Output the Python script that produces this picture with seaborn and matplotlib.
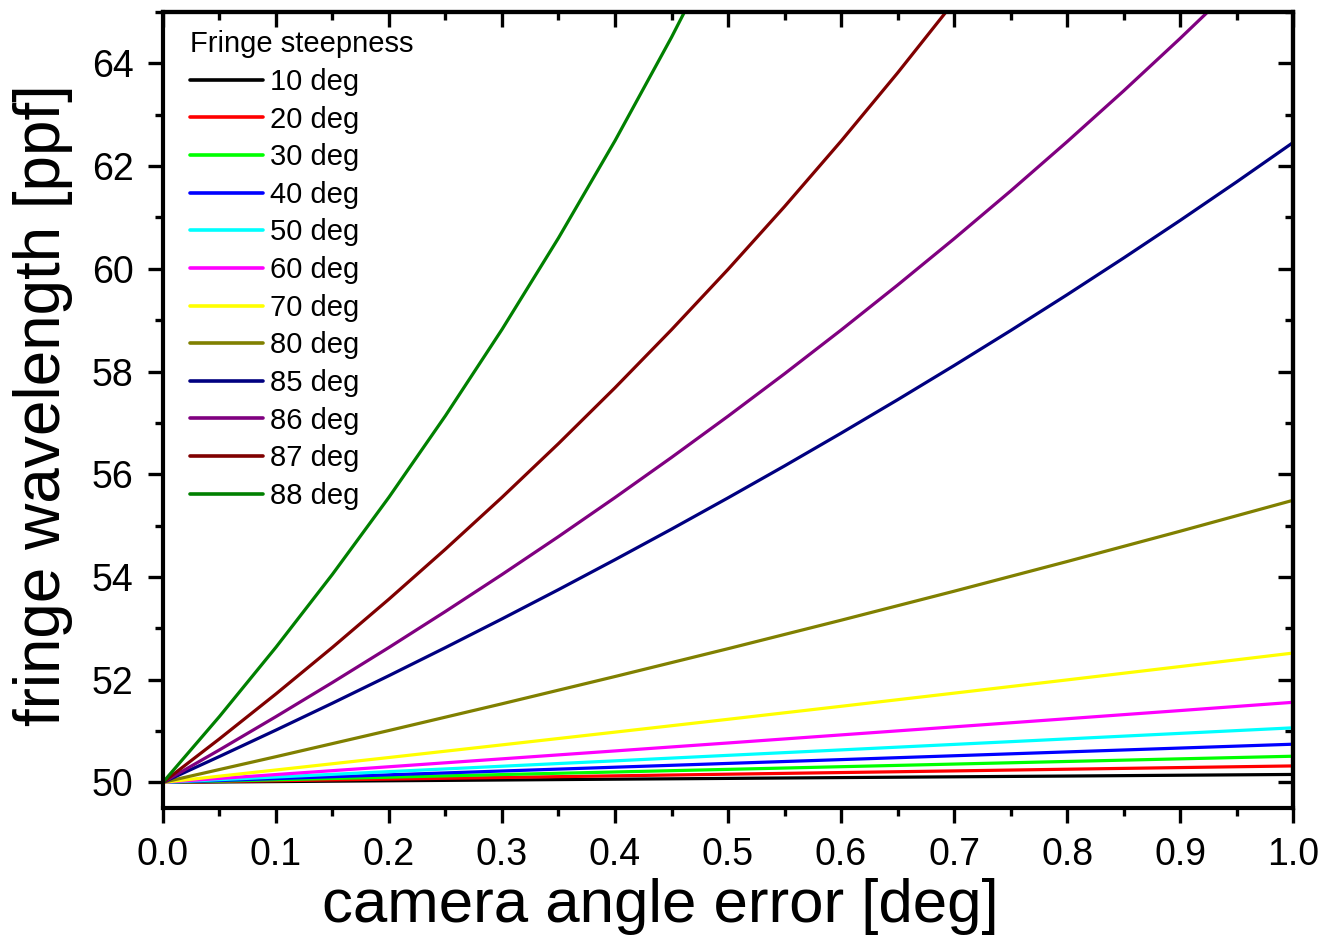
import numpy as np
import pandas as pd
import matplotlib
matplotlib.use("Agg")
import matplotlib.pyplot as plt
from matplotlib.ticker import MultipleLocator
import seaborn as sns

# ---- data ----
labels = ["10 deg", "20 deg", "30 deg", "40 deg", "50 deg", "60 deg",
          "70 deg", "80 deg", "85 deg", "86 deg", "87 deg", "88 deg"]
colors = ["#000000", "#FF0000", "#00FF00", "#0000FF", "#00FFFF", "#FF00FF",
          "#FFFF00", "#808000", "#000080", "#800080", "#800000", "#008000"]

x_coarse = [0.0, 0.1, 0.2, 0.3, 0.4, 0.5, 0.6, 0.7, 0.8, 0.9, 1.0]
x_fine = [0.0, 0.05, 0.1, 0.15, 0.2, 0.25, 0.3, 0.35, 0.4, 0.45, 0.5,
          0.55, 0.6, 0.65, 0.7, 0.75, 0.8, 0.85, 0.9, 0.95, 1.0]

w10 = [50.0, 50.015, 50.031, 50.046, 50.062, 50.077, 50.093, 50.108, 50.123, 50.139, 50.154]
w20 = [50.0, 50.032, 50.064, 50.095, 50.127, 50.159, 50.191, 50.223, 50.256, 50.288, 50.320]
w30 = [50.0, 50.050, 50.101, 50.152, 50.202, 50.253, 50.305, 50.356, 50.407, 50.458, 50.509]
w40 = [50.0, 50.073, 50.147, 50.221, 50.295, 50.369, 50.443, 50.518, 50.593, 50.668, 50.743]
w50 = [50.0, 50.104, 50.209, 50.314, 50.419, 50.526, 50.632, 50.739, 50.846, 50.954, 51.062]
w60 = [50.0, 50.152, 50.304, 50.458, 50.612, 50.767, 50.924, 51.081, 51.239, 51.398, 51.559]
w70 = [50.0, 50.241, 50.484, 50.730, 50.978, 51.228, 51.481, 51.737, 51.995, 52.255, 52.518]
w80 = [50.0, 50.500, 51.010, 51.530, 52.061, 52.603, 53.157, 53.722, 54.300, 54.890, 55.493]
w85 = [50.0, 50.504, 51.018, 51.542, 52.078, 52.625, 53.183, 53.753, 54.336, 54.931, 55.540,
       56.162, 56.799, 57.450, 58.116, 58.797, 59.495, 60.210, 60.942, 61.692, 62.460]
w86 = [50.0, 50.632, 51.280, 51.945, 52.627, 53.328, 54.047, 54.786, 55.546, 56.327, 57.130,
       57.956, 58.807, 59.683, 60.585, 61.515, 62.475, 63.464, 64.486, 65.541]
w87 = [50.0, 50.847, 51.722, 52.629, 53.568, 54.542, 55.550, 56.597, 57.684, 58.814, 59.989,
       61.212, 62.486, 63.814, 65.199]
w88 = [50.0, 51.282, 52.631, 54.052, 55.553, 57.140, 58.819, 60.601, 62.494, 64.509, 66.658]

series = [(w10, x_coarse), (w20, x_coarse), (w30, x_coarse), (w40, x_coarse),
          (w50, x_coarse), (w60, x_coarse), (w70, x_coarse), (w80, x_coarse),
          (w85, x_fine), (w86, x_fine), (w87, x_fine), (w88, x_fine)]

rows = []
for lab, (w, xs) in zip(labels, series):
    for xv, yv in zip(xs[:len(w)], w):
        rows.append({"x": xv, "y": yv, "Fringe steepness": lab})
df = pd.DataFrame(rows)

# ---- style ----
sns.set_theme(style="ticks")
plt.rcParams["font.family"] = ["Liberation Sans", "DejaVu Sans"]
for k in ["text.color", "axes.labelcolor", "xtick.color", "ytick.color", "axes.edgecolor"]:
    plt.rcParams[k] = "black"

fig = plt.figure(figsize=(13.29, 9.41), dpi=100)
ax = fig.add_axes([0.1226, 0.1413, 0.8504, 0.8459])

sns.lineplot(data=df, x="x", y="y", hue="Fringe steepness", hue_order=labels,
             palette=dict(zip(labels, colors)), estimator=None, sort=False,
             linewidth=2.3, ax=ax)

ax.set_xlim(0.0, 1.0)
ax.set_ylim(49.5, 65.0)
ax.xaxis.set_minor_locator(MultipleLocator(0.05))
ax.yaxis.set_minor_locator(MultipleLocator(1))
xt = [0.0, 0.1, 0.2, 0.3, 0.4, 0.5, 0.6, 0.7, 0.8, 0.9, 1.0]
ax.set_xticks(xt)
ax.set_xticklabels([f"{v:.1f}" for v in xt])
ax.set_yticks([50, 52, 54, 56, 58, 60, 62, 64])

for sp in ax.spines.values():
    sp.set_visible(True)
    sp.set_linewidth(3)
    sp.set_color("black")

ax.tick_params(which="major", direction="out", length=11, width=2.4,
               labelsize=27, pad=10, colors="black")
ax.tick_params(which="minor", direction="out", length=6, width=2.4, colors="black")

secx = ax.secondary_xaxis("top")
secx.xaxis.set_major_locator(MultipleLocator(0.1))
secx.xaxis.set_minor_locator(MultipleLocator(0.05))
secx.tick_params(which="major", direction="in", length=11, width=2.4, labeltop=False)
secx.tick_params(which="minor", direction="in", length=6, width=2.4)
secx.spines["top"].set_linewidth(3)

secy = ax.secondary_yaxis("right")
secy.yaxis.set_major_locator(MultipleLocator(2))
secy.yaxis.set_minor_locator(MultipleLocator(1))
secy.tick_params(which="major", direction="in", length=11, width=2.4, labelright=False)
secy.tick_params(which="minor", direction="in", length=6, width=2.4)
secy.spines["right"].set_linewidth(3)

ax.set_xlabel("camera angle error [deg]", fontsize=44.5)
ax.set_ylabel("fringe wavelength [ppf]", fontsize=46)
ax.xaxis.set_label_coords(0.44, -0.088)
ax.yaxis.set_label_coords(-0.080, 0.506)

handles, labs = ax.get_legend_handles_labels()
ax.get_legend().remove()
leg = ax.legend(handles, labs, title="Fringe steepness", loc="upper left",
                bbox_to_anchor=(0.024, 0.977), frameon=False, fontsize=21,
                title_fontsize=21, handlelength=2.5, handletextpad=0.25,
                labelspacing=0.33, borderpad=0.0, borderaxespad=0.0,
                alignment="left")
for ln in leg.get_lines():
    ln.set_linewidth(2.6)

fig.savefig("out.png", dpi=100)
